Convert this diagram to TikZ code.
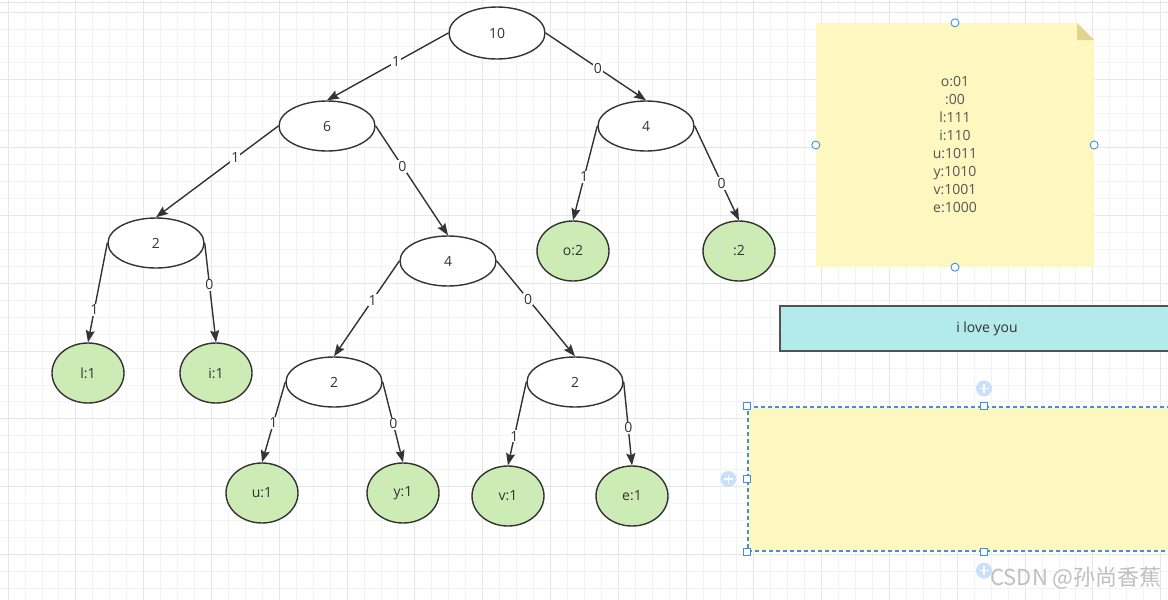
\documentclass[tikz,border=0pt]{standalone}
\usepackage{xcolor}
\usepackage{tikz}
\usepackage{fontspec}
\setmainfont{Open Sans}
\newfontfamily\cjk{Noto Sans CJK SC}
\usetikzlibrary{
    arrows.meta,
    positioning,
    shapes.geometric
}

\definecolor{inkgray}{HTML}{333333}
\definecolor{notetext}{HTML}{555555}
\definecolor{leafgreen}{HTML}{CDEBB5}
\definecolor{notefill}{HTML}{FFF7C0}
\definecolor{foldfill}{HTML}{E3D38E}
\definecolor{lovefill}{HTML}{B3EAEA}
\definecolor{handleblue}{HTML}{3C8FEA}
\definecolor{plusblue}{HTML}{C9E0FC}
\definecolor{gridminor}{HTML}{F3F3F3}
\definecolor{gridmajor}{HTML}{E7E7E7}

\begin{document}
\begin{tikzpicture}[
x=1pt, y=-1pt,
font=\fontsize{14}{18}\selectfont,
sumnode/.style={
ellipse,
draw=inkgray,
line width=1.4pt,
fill=white,
text=inkgray,
minimum width=96pt,
minimum height=50pt,
inner sep=0pt
},
leafnode/.style={
sumnode,
fill=leafgreen,
minimum width=72pt,
minimum height=60pt
},
link/.style={
draw=inkgray,
line width=1.4pt,
-{Stealth[length=12pt, width=9pt, inset=2pt]}
},
bit/.style={fill=white, inner sep=1pt, text=inkgray},
dot/.style={
circle, draw=handleblue, fill=white,
line width=0.9pt, minimum size=8pt, inner sep=0pt
},
sqhandle/.style={
rectangle, draw=handleblue, fill=white,
line width=0.9pt, minimum size=7pt, inner sep=0pt
},
pluscirc/.style={
circle, fill=plusblue, minimum size=16pt, inner sep=0pt,
path picture={
\draw[white, line width=1.4pt]
(path picture bounding box.center) ++(-4.5pt,0pt) -- ++(9pt,0pt)
(path picture bounding box.center) ++(0pt,-4.5pt) -- ++(0pt,9pt);
}
}
]

\useasboundingbox (0,0) rectangle (1168,600);

% grid
\fill[white] (0,0) rectangle (1168,600);
\foreach \i in {0,...,68}
  \draw[gridminor, line width=0.8pt] (8+16.95*\i,0) -- (8+16.95*\i,600);
\foreach \j in {0,...,34}
  \draw[gridminor, line width=0.8pt] (0,12+16.95*\j) -- (1168,12+16.95*\j);
\foreach \i in {0,4,...,68}
  \draw[gridmajor, line width=0.9pt] (8+16.95*\i,0) -- (8+16.95*\i,600);
\foreach \j in {0,4,...,32}
  \draw[gridmajor, line width=0.9pt] (0,12+16.95*\j) -- (1168,12+16.95*\j);
\draw[gridmajor, line width=0.8pt] (0,2) -- (1168,2);

% tree
\node[sumnode, minimum height=52pt] (n10) at (497,33) {10};

\node[sumnode, on grid, below left=93pt and 170pt of n10] (n6) {6};
\node[sumnode, on grid, below right=93pt and 149pt of n10] (n4a) {4};

\node[sumnode, on grid, below left=117pt and 171pt of n6] (n2a) {2};
\node[sumnode, on grid, below right=135pt and 121pt of n6] (n4b) {4};

\node[leafnode, on grid, below left=125pt and 73pt of n4a] (o) {o:2};
\node[leafnode, on grid, below right=125pt and 93pt of n4a] (sp) {:2};

\node[leafnode, on grid, below left=130pt and 68pt of n2a] (l) {l:1};
\node[leafnode, on grid, below right=130pt and 60pt of n2a] (i) {i:1};

\node[sumnode, on grid, below left=121pt and 114pt of n4b] (n2b) {2};
\node[sumnode, on grid, below right=121pt and 127pt of n4b] (n2c) {2};

\node[leafnode, on grid, below left=111pt and 72pt of n2b] (u) {u:1};
\node[leafnode, on grid, below right=111pt and 69pt of n2b] (y) {y:1};

\node[leafnode, on grid, below left=114pt and 67pt of n2c] (v) {v:1};
\node[leafnode, on grid, below right=114pt and 57pt of n2c] (e) {e:1};

\draw[link] (n10.west) -- node[bit, pos=.43]{1} (n6.north);
\draw[link] (n10.east) -- node[bit, pos=.52]{0} (n4a.north);
\draw[link] (n6.west) -- node[bit, pos=.35]{1} (n2a.north);
\draw[link] (n6.east) -- node[bit, pos=.37]{0} (n4b.north);
\draw[link] (n4a.west) -- node[bit, pos=.54]{1} (o.north);
\draw[link] (n4a.east) -- node[bit, pos=.61]{0} (sp.north);
\draw[link] (n2a.west) -- node[bit, pos=.67]{1} (l.north);
\draw[link] (n2a.east) -- node[bit, pos=.42]{0} (i.north);
\draw[link] (n4b.west) -- node[bit, pos=.41]{1} (n2b.north);
\draw[link] (n4b.east) -- node[bit, pos=.40]{0} (n2c.north);
\draw[link] (n2b.west) -- node[bit, pos=.51]{1} (u.north);
\draw[link] (n2b.east) -- node[bit, pos=.52]{0} (y.north);
\draw[link] (n2c.west) -- node[bit, pos=.65]{1} (v.north);
\draw[link] (n2c.east) -- node[bit, pos=.55]{0} (e.north);

% sticky note with the codes
\fill[notefill] (816,23) -- (1077,23) -- (1094,40) -- (1094,267) -- (816,267) -- cycle;
\fill[foldfill] (1077,23) -- (1077,40) -- (1094,40) -- cycle;
\node[minimum width=278pt, minimum height=244pt, align=center, text=notetext]
(note) at (955,145)
{o:01\\ :00\\ l:111\\ i:110\\ u:1011\\ y:1010\\ v:1001\\ e:1000};
\node[dot] (nh1) at (note.north) {};
\node[dot] (nh2) at (note.west) {};
\node[dot] (nh3) at (note.east) {};
\node[dot] (nh4) at (note.south) {};

% message box
\node[draw=inkgray!85, line width=1.4pt, fill=lovefill, text=inkgray,
minimum width=414pt, minimum height=45pt] (love) at (987,328.5) {i love you};

% selected empty box
\node[draw=handleblue, dashed, dash pattern=on 4pt off 3pt, line width=1.2pt,
fill=notefill, minimum width=472pt, minimum height=144pt] (sel) at (984,479) {};
\node[sqhandle] (sh1) at (sel.north west) {};
\node[sqhandle] (sh2) at (sel.north) {};
\node[sqhandle] (sh3) at (sel.west) {};
\node[sqhandle] (sh4) at (sel.south west) {};
\node[sqhandle] (sh5) at (sel.south) {};
\node[pluscirc] (ph1) at ([yshift=18pt]sel.north) {};
\node[pluscirc] (ph2) at ([xshift=-19pt]sel.west) {};
\node[pluscirc] (ph3) at ([yshift=-19pt]sel.south) {};

% watermark
\node[text=black!25, font=\cjk\fontsize{22}{26}\selectfont] (mark) at (1076,578) {CSDN @孙尚香蕉};

\end{tikzpicture}
\end{document}
